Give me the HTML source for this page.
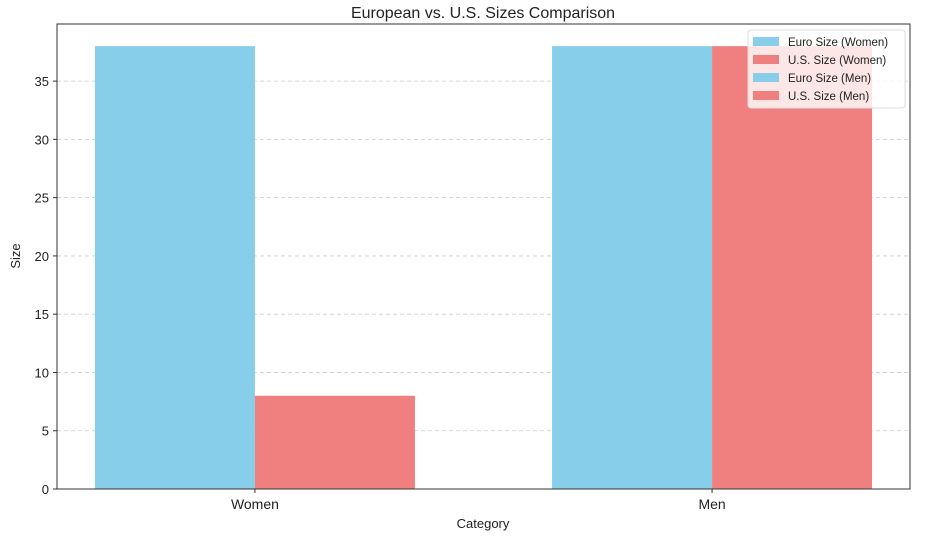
<!DOCTYPE html>
<html><head><meta charset="utf-8"><style>
body{margin:0;background:#fff;font-family:"Liberation Sans",sans-serif}
svg text{font-family:"Liberation Sans",sans-serif;fill:#222}
</style></head><body>
<svg id="chart" width="940" height="537" viewBox="0 0 940 537">
<text x="483" y="18" font-size="16" text-anchor="middle">European vs. U.S. Sizes Comparison</text>
<g id="grid"></g><g id="bars"></g><g id="axes"></g><g id="legend"></g>
<text x="483" y="528" font-size="13" text-anchor="middle">Category</text>
<text x="20" y="256" font-size="13" text-anchor="middle" transform="rotate(-90 20 256)">Size</text>
</svg>
<script>
const categories = ["Women", "Men"];
const euroSizes = [38, 38];
const usSizes = [8, 38];
const yTicks = [0, 5, 10, 15, 20, 25, 30, 35];
const seriesNames = ["Euro Size (Women)", "U.S. Size (Women)", "Euro Size (Men)", "U.S. Size (Men)"];

const NS = "http://www.w3.org/2000/svg";
const L = 57, R = 910, T = 24, B = 489;
const xMin = -0.433, xMax = 1.433, yMax = 39.9, bw = 0.35;
const xS = v => L + (v - xMin) / (xMax - xMin) * (R - L);
const yS = v => B - v / yMax * (B - T);
function mk(tag, attrs, parent) {
  const e = document.createElementNS(NS, tag);
  for (const k in attrs) e.setAttribute(k, attrs[k]);
  document.getElementById(parent).appendChild(e);
  return e;
}
yTicks.forEach(t => {
  const g = mk("line", {x1: L, x2: R, y1: yS(t), y2: yS(t), stroke: "#ccc", "stroke-dasharray": "4,3", "stroke-width": 0.8}, "grid");
  
  
  const tk = mk("line", {x1: L - 4, x2: L, y1: yS(t), y2: yS(t), stroke: "#333"}, "axes");
  
  
  const tl = mk("text", {x: L - 8, y: yS(t) + 5, "font-size": 13, "text-anchor": "end"}, "axes");
  tl.textContent = t;
  
  
});
categories.forEach((c, i) => {
  const e = mk("rect", {x: xS(i - bw), y: yS(euroSizes[i]), width: xS(i) - xS(i - bw), height: yS(0) - yS(euroSizes[i]), fill: "#87ceeb"}, "bars");
  
  
  const u = mk("rect", {x: xS(i), y: yS(usSizes[i]), width: xS(i + bw) - xS(i), height: yS(0) - yS(usSizes[i]), fill: "#f08080"}, "bars");
  
  
  const tk = mk("line", {x1: xS(i), x2: xS(i), y1: B, y2: B + 4, stroke: "#333"}, "axes");
  
  
  const tl = mk("text", {x: xS(i), y: B + 20, "font-size": 14, "text-anchor": "middle"}, "axes");
  tl.textContent = c;
  
  
});
const frame = mk("rect", {x: L, y: T, width: R - L, height: B - T, fill: "none", stroke: "#333", "stroke-width": 1}, "axes");


const lb = mk("rect", {x: 748, y: 30, width: 157, height: 78, rx: 3, fill: "rgba(255,255,255,0.8)", stroke: "#ddd"}, "legend");


seriesNames.forEach((n, i) => {
  const y = 35 + i * 18;
  const sw = mk("rect", {x: 753, y: y + 2, width: 26, height: 9, fill: i % 2 ? "#f08080" : "#87ceeb"}, "legend");
  
  
  const t = mk("text", {x: 788, y: y + 11, "font-size": 11.5}, "legend");
  t.textContent = n;
  
  
});
</script>
</body></html>
